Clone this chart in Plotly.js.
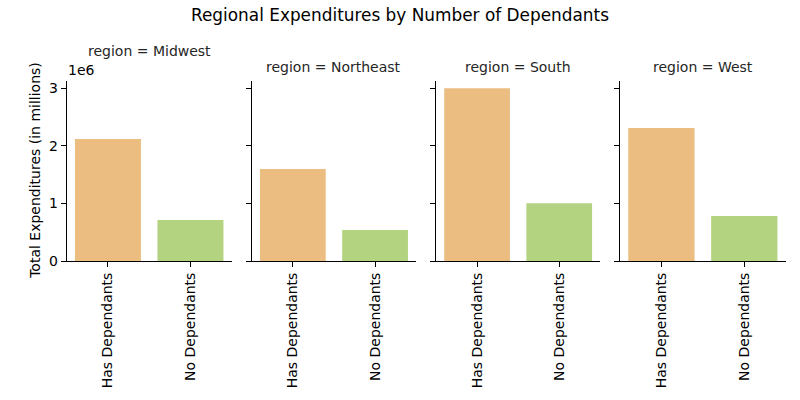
<!DOCTYPE html>
<html>
<head>
<meta charset="utf-8">
<script src="https://cdn.plot.ly/plotly-3.0.1.min.js"></script>
<style>html,body{margin:0;padding:0;background:#fff;}#chart{width:800px;height:400px;}</style>
</head>
<body>
<div id="chart"></div>
<script>
const regions = ["Midwest", "Northeast", "South", "West"];
const categories = ["Has Dependants", "No Dependants"];
const hasDependants = [2118000, 1597000, 3000000, 2311000];
const noDependants = [712000, 538000, 1002000, 782000];
const barColors = ["#EBBD80", "#B3D381"];
const yTickVals = [0, 1000000, 2000000, 3000000];
const yTickText = ["0", "1", "2", "3"];

const W = 800, H = 400;
const panelPx = [[66.7, 231.7], [251.7, 416.2], [436, 600.3], [620, 785.7]];
const yTopPx = 80.7, yBotPx = 261;
const font = "DejaVu Sans, sans-serif";

const traces = [];
const layout = {
  width: W, height: H,
  margin: {l: 0, r: 0, t: 0, b: 0},
  paper_bgcolor: "#fff", plot_bgcolor: "#fff",
  showlegend: false,
  bargap: 0.2,
  font: {family: font, color: "#000", size: 14},
  annotations: [],
};

regions.forEach((r, i) => {
  const k = i === 0 ? "" : String(i + 1);
  traces.push({
    type: "bar",
    x: categories,
    y: [hasDependants[i], noDependants[i]],
    xaxis: "x" + k, yaxis: "y" + k,
    marker: {color: barColors, line: {width: 0}},
    hoverinfo: "x+y",
  });
  layout["xaxis" + k] = {
    domain: [panelPx[i][0] / W, panelPx[i][1] / W],
    anchor: "y" + k,
    type: "category",
    range: [-0.5, 1.5],
    tickangle: -90,
    ticks: "outside", ticklen: 5, tickwidth: 1, tickcolor: "#000",
    showline: true, linecolor: "#000", linewidth: 1,
    showgrid: false, zeroline: false,
    tickfont: {family: font, size: 14, color: "#000"},
    fixedrange: true,
  };
  layout["yaxis" + k] = {
    domain: [1 - yBotPx / H, 1 - yTopPx / H],
    anchor: "x" + k,
    range: [0, 3130000],
    tickmode: "array", tickvals: yTickVals,
    ticktext: yTickText,
    showticklabels: i === 0,
    ticks: "outside", ticklen: 5, tickwidth: 1, tickcolor: "#000",
    showline: true, linecolor: "#000", linewidth: 1,
    showgrid: false, zeroline: false,
    tickfont: {family: font, size: 14, color: "#000"},
    fixedrange: true,
  };
  const cx = (panelPx[i][0] + panelPx[i][1]) / 2 / W;
  const ty = i === 0 ? 51 : 66.5;
  layout.annotations.push({
    text: "region = " + r, xref: "paper", yref: "paper",
    x: cx, y: 1 - ty / H, xanchor: "center", yanchor: "middle",
    showarrow: false, font: {family: font, size: 14, color: "#262626"},
  });
});

layout.annotations.push({
  text: "Regional Expenditures by Number of Dependants", xref: "paper", yref: "paper",
  x: 0.5, y: 1 - 15 / H, xanchor: "center", yanchor: "middle",
  showarrow: false, font: {family: font, size: 16.9, color: "#000"},
});
layout.annotations.push({
  text: "1e6", xref: "paper", yref: "paper",
  x: 66 / W, y: 1 - 70 / H, xanchor: "left", yanchor: "middle",
  showarrow: false, font: {family: font, size: 14, color: "#000"},
});
layout.annotations.push({
  text: "Total Expenditures (in millions)", xref: "paper", yref: "paper",
  x: 35 / W, y: 1 - ((yTopPx + yBotPx) / 2) / H, xanchor: "center", yanchor: "middle",
  textangle: -90,
  showarrow: false, font: {family: font, size: 14, color: "#000"},
});

Plotly.newPlot("chart", traces, layout, {displayModeBar: false, staticPlot: true});
</script>
</body>
</html>
